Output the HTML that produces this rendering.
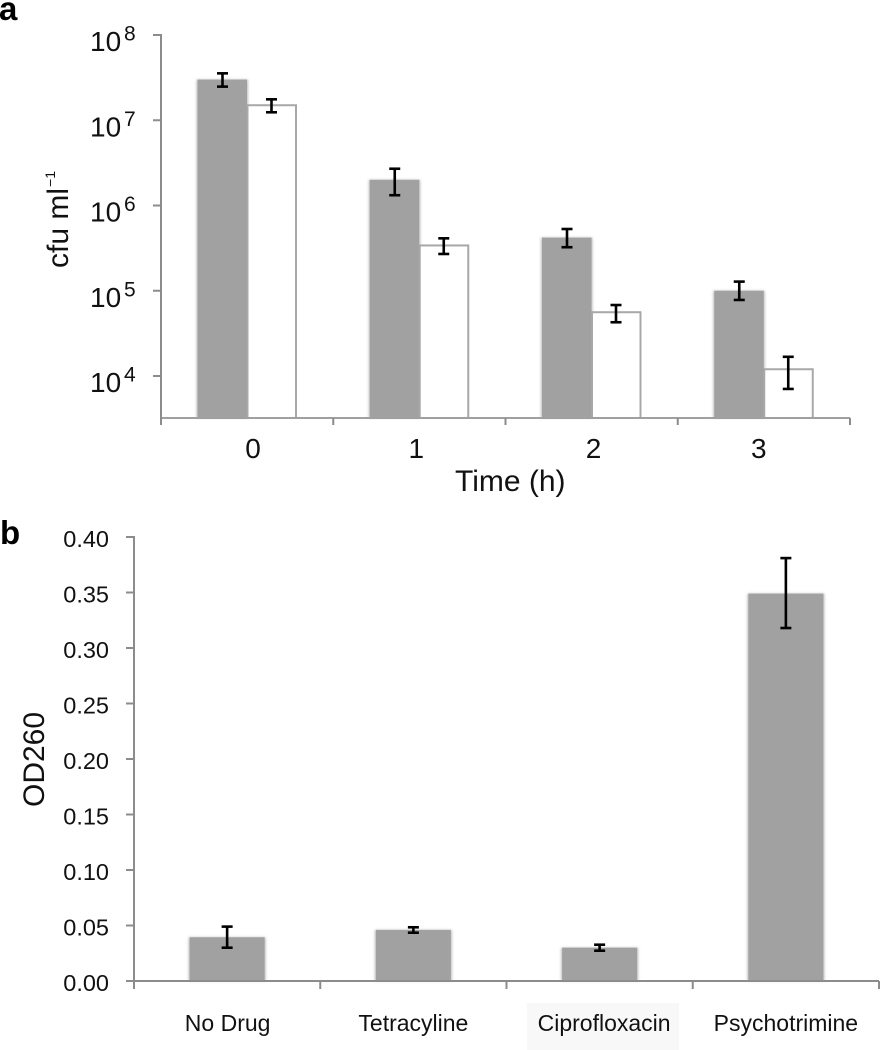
<!DOCTYPE html>
<html lang="en">
<head>
<meta charset="utf-8">
<title>Viable counts and OD260 bar charts</title>
<style>
  html, body { margin: 0; padding: 0; background: #fff; }
  #figure { display: block; width: 881px; height: 1050px; font-family: "Liberation Sans", Arial, sans-serif; fill: #111; }
</style>
</head>
<body>
<svg id="figure" xmlns="http://www.w3.org/2000/svg" width="881" height="1050" viewBox="0 0 881 1050">
  <defs>
    <filter id="bar-glow" x="-10%" y="-10%" width="120%" height="120%">
      <feGaussianBlur stdDeviation="1.2"/>
    </filter>
  </defs>
  <rect x="0" y="0" width="881" height="1050" fill="#fff"/>
  <text x="-1" y="20" font-size="33" font-weight="bold" fill="#000">a</text>
  <text x="0" y="544" font-size="33" font-weight="bold" fill="#000">b</text>
  <g id="panel-a"></g>
  <g id="panel-b"></g>
  <text x="455" y="491" font-size="30">Time (h)</text>
  <text transform="translate(68 268) rotate(-90)" font-size="30">cfu ml<tspan font-size="14" dy="-13" dx="1">−1</tspan></text>
  <text transform="translate(44 807) rotate(-90)" font-size="30">OD260</text>
</svg>
<script>
// Panel a data (cfu per ml)
const timeCategories = ['0', '1', '2', '3'];
const filledValues = [3.0e7, 2.0e6, 4.2e5, 1.0e5];
const filledErrorHigh = [3.55e7, 2.7e6, 5.3e5, 1.28e5];
const filledErrorLow = [2.48e7, 1.32e6, 3.24e5, 7.8e4];
const openValues = [1.5e7, 3.4e5, 5.6e4, 1.2e4];
const openErrorHigh = [1.76e7, 4.12e5, 6.8e4, 1.68e4];
const openErrorLow = [1.24e7, 2.7e5, 4.27e4, 7.05e3];
const cfuTickExponents = [8, 7, 6, 5, 4];

// Panel b data (OD260)
const drugCategories = ['No Drug', 'Tetracyline', 'Ciprofloxacin', 'Psychotrimine'];
const odValues = [0.0394, 0.046, 0.030, 0.349];
const odErrorHigh = [0.049, 0.0484, 0.0327, 0.381];
const odErrorLow = [0.030, 0.0435, 0.0273, 0.318];
const odTickLabels = ['0.00', '0.05', '0.10', '0.15', '0.20', '0.25', '0.30', '0.35', '0.40'];

const SVG_NS = 'http://www.w3.org/2000/svg';
const AXIS_GREY = '#8c8c8c';
const BAR_GREY = '#a1a1a1';

function mk(parent, tag, attrs, text) {
  const el = document.createElementNS(SVG_NS, tag);
  for (const k in attrs) el.setAttribute(k, attrs[k]);
  if (text !== undefined) el.textContent = text;
  parent.appendChild(el);
  return el;
}

function drawErrorBar(parent, cx, yHigh, yLow, capHalf) {
  const g = mk(parent, 'g', { stroke: '#000', 'stroke-width': 2.6, fill: 'none' });
  
  
  mk(g, 'line', { x1: cx, x2: cx, y1: yHigh, y2: yLow });
  mk(g, 'line', { x1: cx - capHalf, x2: cx + capHalf, y1: yHigh, y2: yHigh });
  mk(g, 'line', { x1: cx - capHalf, x2: cx + capHalf, y1: yLow, y2: yLow });
}

function drawSolidBar(parent, x0, x1, yTop, yBase) {
  const glow = mk(parent, 'rect', { x: x0 - 1, y: yTop, width: x1 - x0 + 2, height: yBase - yTop, fill: '#bdbdbd', filter: 'url(#bar-glow)' });
  
  
  const bar = mk(parent, 'rect', { x: x0, y: yTop, width: x1 - x0, height: yBase - yTop, fill: BAR_GREY });
  
  
}

/* ---------- Panel a ---------- */
(function () {
  const root = document.getElementById('panel-a');
  const top = 35, decade = 85.25, base = 418, left = 161, catW = 172.25;
  const yA = v => top + (8 - Math.log10(v)) * decade;
  const yExp = e => top + (8 - e) * decade;
  const catCentre = i => left + 86 + i * catW;
  const xLabelNudge = [6, -3, 2, -5];

  timeCategories.forEach(function (c, i) {
    const cx = catCentre(i);
    drawSolidBar(root, cx - 49.5, cx, yA(filledValues[i]), base);
    const open = mk(root, 'rect', { x: cx + 0.5, y: yA(openValues[i]), width: 48.5, height: base - yA(openValues[i]), fill: '#fff', stroke: '#a8a8a8', 'stroke-width': 2 });
    
    
  });

  const xAxis = mk(root, 'line', { x1: left, x2: left + 4 * catW, y1: base, y2: base, stroke: '#a0a0a0', 'stroke-width': 2 });
  
  
  const yAxis = mk(root, 'line', { x1: left, x2: left, y1: top - 1, y2: base + 7, stroke: AXIS_GREY, 'stroke-width': 2 });
  
  

  for (let i = 1; i <= timeCategories.length; i++) {
    const t = mk(root, 'line', { x1: left + i * catW, x2: left + i * catW, y1: base, y2: base + 7, stroke: AXIS_GREY, 'stroke-width': 2 });
    
    
  }

  cfuTickExponents.forEach(function (e) {
    const y = yExp(e);
    const t = mk(root, 'line', { x1: left - 8, x2: left, y1: y, y2: y, stroke: AXIS_GREY, 'stroke-width': 2 });
    
    
    const base10 = mk(root, 'text', { x: 90, y: y + 16, 'font-size': 28 }, '10');
    
    
    const sup = mk(root, 'text', { x: 124, y: y + 5.5, 'font-size': 21 }, String(e));
    
    
  });

  timeCategories.forEach(function (c, i) {
    const cx = catCentre(i);
    const lab = mk(root, 'text', { x: cx + xLabelNudge[i], y: 458, 'font-size': 28, 'text-anchor': 'middle' }, c);
    
    
    drawErrorBar(root, cx - 24.5, yA(filledErrorHigh[i]), yA(filledErrorLow[i]), 5.5);
    drawErrorBar(root, cx + 24.5, yA(openErrorHigh[i]), yA(openErrorLow[i]), 5.5);
  });
})();

/* ---------- Panel b ---------- */
(function () {
  const root = document.getElementById('panel-b');
  const base = 981, perUnit = 1110, left = 134, catW = 186.25;
  const yB = v => base - v * perUnit;
  const catCentre = i => left + catW / 2 + i * catW;
  const barHalf = 37.5;
  const labelNudge = [0.5, 0, 4.5, 0];

  const plate = mk(root, 'rect', { x: 527, y: 1003, width: 152, height: 47, fill: '#f8f8f8' });
  
  

  drugCategories.forEach(function (c, i) {
    const cx = catCentre(i);
    drawSolidBar(root, cx - barHalf, cx + barHalf, yB(odValues[i]), base);
  });

  const xAxis = mk(root, 'line', { x1: left, x2: left + 4 * catW, y1: base, y2: base, stroke: AXIS_GREY, 'stroke-width': 2 });
  
  
  const yAxis = mk(root, 'line', { x1: left, x2: left, y1: yB(0.4) - 1, y2: base + 8, stroke: AXIS_GREY, 'stroke-width': 2 });
  
  

  for (let i = 1; i <= drugCategories.length; i++) {
    const t = mk(root, 'line', { x1: left + i * catW, x2: left + i * catW, y1: base, y2: base + 8, stroke: AXIS_GREY, 'stroke-width': 2 });
    
    
  }

  odTickLabels.forEach(function (label) {
    const y = yB(parseFloat(label));
    const t = mk(root, 'line', { x1: left - 8, x2: left, y1: y, y2: y, stroke: AXIS_GREY, 'stroke-width': 2 });
    
    
    const lab = mk(root, 'text', { x: 109, y: y + 10, 'font-size': 23.5, 'text-anchor': 'end' }, label);
    
    
  });

  drugCategories.forEach(function (c, i) {
    const cx = catCentre(i);
    const lab = mk(root, 'text', { x: cx + labelNudge[i], y: 1031, 'font-size': 23, 'text-anchor': 'middle' }, c);
    
    
    drawErrorBar(root, cx, yB(odErrorHigh[i]), yB(odErrorLow[i]), 5.5);
  });
})();
</script>
</body>
</html>
